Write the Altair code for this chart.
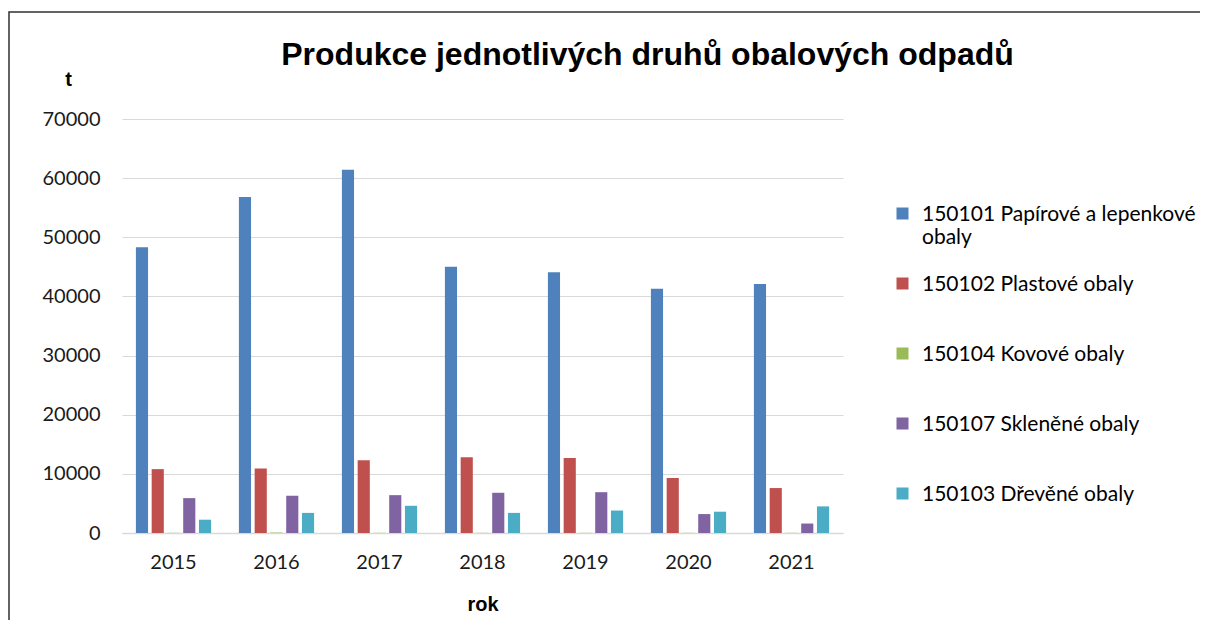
import altair as alt
import pandas as pd

years = ["2015", "2016", "2017", "2018", "2019", "2020", "2021"]
series = [
    "150101 Papírové a lepenkové obaly",
    "150102 Plastové obaly",
    "150104 Kovové obaly",
    "150107 Skleněné obaly",
    "150103 Dřevěné obaly",
]
papir = [48300, 56800, 61400, 45000, 44100, 41300, 42100]
plast = [10800, 10900, 12300, 12800, 12700, 9300, 7600]
kov = [30, 80, 30, 30, 30, 30, 30]
sklo = [5900, 6300, 6400, 6800, 6900, 3200, 1600]
drevo = [2250, 3400, 4600, 3400, 3800, 3600, 4500]
colors = ["#4F81BD", "#C0504D", "#9BBB59", "#8064A2", "#4BACC6"]

rows = []
for name, vals in zip(series, [papir, plast, kov, sklo, drevo]):
    for y, v in zip(years, vals):
        rows.append({"rok": y, "druh": name, "t": v})
df = pd.DataFrame(rows)

W, H = 721, 414
PL, PT, PR, PB = 114, 111, 357, 87
FONT = "Lato"

bars = alt.Chart(df).mark_bar().encode(
    x=alt.X("rok:N", sort=years,
            scale=alt.Scale(paddingInner=0.27, paddingOuter=0.135),
            axis=alt.Axis(title="rok", labelAngle=0, labelFontSize=20, labelFont=FONT,
                          labelColor="#1a1a1a", labelPadding=19, ticks=False,
                          domainColor="#d9d9d9", domainWidth=1.5,
                          titleFont="Liberation Sans", titleFontSize=20, titleFontWeight="bold",
                          titleColor="#000000", titlePadding=22)),
    xOffset=alt.XOffset("druh:N", sort=series,
                        scale=alt.Scale(paddingInner=0.23, paddingOuter=0)),
    y=alt.Y("t:Q", scale=alt.Scale(domain=[0, 70000]),
            axis=alt.Axis(title="t", titleAngle=0, titleX=-54, titleY=-30,
                          titleFont="Liberation Sans", titleFontSize=20, titleFontWeight="bold",
                          titleColor="#000000", titleAlign="center",
                          values=list(range(0, 70001, 10000)), format="d",
                          labelFontSize=20, labelFont=FONT, labelColor="#1a1a1a",
                          labelPadding=22, ticks=False, domain=False,
                          gridColor="#d9d9d9", gridWidth=1.2)),
    color=alt.Color("druh:N", sort=series,
                    scale=alt.Scale(domain=series, range=colors),
                    legend=alt.Legend(
                        title=None, orient="none", legendX=770, legendY=72,
                        symbolType="M-1,-2.25H1V-0.25H-1Z", symbolSize=144, symbolStrokeWidth=0,
                        labelFont=FONT, labelFontSize=21, labelColor="#000000",
                        labelLimit=400, rowPadding=10, clipHeight=60, labelOffset=9,
                        labelBaseline="alphabetic",
                        labelExpr="datum.label == '150101 Papírové a lepenkové obaly' ? ['150101 Papírové a lepenkové', 'obaly'] : datum.label",
                    )),
)

border = alt.Chart(pd.DataFrame({"a": [0]})).mark_rect(
    fill=None, stroke="#303030", strokeWidth=1.5
).encode(
    x=alt.value(-113), x2=alt.value(W + PR + 20),
    y=alt.value(-107), y2=alt.value(H + PB + 20),
)

chart = alt.layer(border, bars).properties(
    width=W, height=H,
    autosize=alt.AutoSizeParams(type="none"),
    padding={"left": PL, "top": PT, "right": PR, "bottom": PB},
    title=alt.TitleParams(
        "Produkce jednotlivých druhů obalových odpadů",
        font="Liberation Sans", fontSize=32, fontWeight="bold", color="#000000",
        anchor="middle", frame="group", dx=165, offset=-86, baseline="alphabetic",
    ),
).configure(background="white").configure_view(stroke=None)

chart.save("out.html", embed_options={"renderer": "svg", "actions": False})
